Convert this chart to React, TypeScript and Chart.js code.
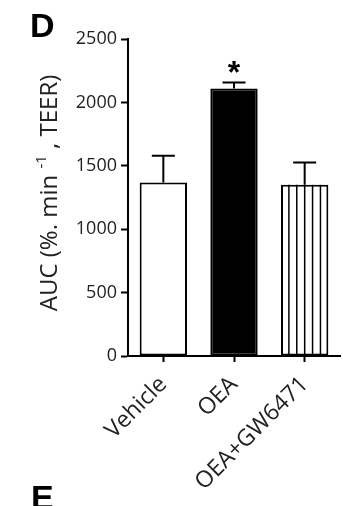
import React, { useEffect, useRef } from 'react';
import { Chart, registerables } from 'chart.js';

Chart.register(...registerables);

// Treatment groups and their area-under-curve values (mean and SEM)
const groups = ['Vehicle', 'OEA', 'OEA+GW6471'];
const aucMean = [1368, 2110, 1350];
const aucSem = [211, 47, 176];
const significance = ['', '*', ''];
const yTickValues = [0, 500, 1000, 1500, 2000, 2500];

const FONT = '"Open Sans", "DejaVu Sans", sans-serif';
const BOLD = '"Liberation Sans", Arial, sans-serif';

const annotatePlugin = {
  id: 'annotate',
  afterDatasetsDraw(chart: any) {
    const ctx: CanvasRenderingContext2D = chart.ctx;
    const meta = chart.getDatasetMeta(0);
    const yScale = chart.scales.y;
    ctx.save();
    ctx.strokeStyle = '#000';

    // vertical hatching inside the OEA+GW6471 bar
    const hatched: any = meta.data[2];
    const left = hatched.x - hatched.width / 2;
    ctx.lineWidth = 1.5;
    for (let k = 1; k < 6; k++) {
      const sx = left + (hatched.width * k) / 6;
      ctx.beginPath();
      ctx.moveTo(sx, hatched.y);
      ctx.lineTo(sx, hatched.base);
      ctx.stroke();
    }

    // upper error bars and significance marks
    meta.data.forEach((el: any, i: number) => {
      const top = yScale.getPixelForValue(aucMean[i] + aucSem[i]);
      ctx.lineWidth = 2;
      ctx.beginPath();
      ctx.moveTo(el.x, el.y);
      ctx.lineTo(el.x, top);
      ctx.moveTo(el.x - 11.5, top);
      ctx.lineTo(el.x + 11.5, top);
      ctx.stroke();
      if (significance[i]) {
        ctx.fillStyle = '#000';
        ctx.font = `bold 32px ${BOLD}`;
        ctx.textAlign = 'center';
        ctx.textBaseline = 'alphabetic';
        ctx.fillText(significance[i], el.x, top + 1);
      }
    });
    ctx.restore();
  },
  afterDraw(chart: any) {
    const ctx: CanvasRenderingContext2D = chart.ctx;
    ctx.save();

    // panel letters
    ctx.fillStyle = '#000';
    ctx.font = `bold 34px ${BOLD}`;
    ctx.textAlign = 'left';
    ctx.textBaseline = 'alphabetic';
    ctx.fillText('D', 30, 37);
    ctx.fillText('E', 31, 509);

    // rotated y-axis title with superscript
    ctx.fillStyle = '#222';
    ctx.translate(57, 193);
    ctx.rotate(-Math.PI / 2);
    const parts = [
      { t: 'AUC (%. min ', size: 24, rise: 0 },
      { t: '-1', size: 15, rise: 11 },
      { t: ' , TEER)', size: 24, rise: 0 },
    ];
    let total = 0;
    parts.forEach((p) => {
      ctx.font = `${p.size}px ${FONT}`;
      total += ctx.measureText(p.t).width;
    });
    let x = -total / 2;
    parts.forEach((p) => {
      ctx.font = `${p.size}px ${FONT}`;
      ctx.fillText(p.t, x, -p.rise);
      x += ctx.measureText(p.t).width;
    });
    ctx.restore();
  },
};

export default function App() {
  const canvasRef = useRef<HTMLCanvasElement | null>(null);

  useEffect(() => {
    if (!canvasRef.current) return;
    const chart = new Chart(canvasRef.current, {
      type: 'bar',
      data: {
        labels: groups,
        datasets: [
          {
            data: aucMean,
            backgroundColor: ['#ffffff', '#000000', '#ffffff'],
            borderColor: '#000',
            borderWidth: 2,
            borderSkipped: false,
            categoryPercentage: 1,
            barPercentage: 0.67,
          },
        ],
      },
      options: {
        responsive: false,
        animation: false,
        layout: { padding: { top: 39, right: 3, left: 0, bottom: 0 } },
        plugins: { legend: { display: false }, tooltip: { enabled: false } },
        scales: {
          x: {
            offset: true,
            afterFit: (s: any) => {
              s.height = 150;
            },
            grid: {
              display: true,
              drawOnChartArea: false,
              offset: false,
              tickLength: 6,
              tickColor: '#000',
              tickWidth: 2,
            },
            border: { display: true, color: '#000', width: 2 },
            ticks: {
              minRotation: 45,
              maxRotation: 45,
              color: '#222',
              padding: 9,
              font: { family: FONT, size: 23 },
            },
          },
          y: {
            min: 0,
            max: 2500,
            afterFit: (s: any) => {
              s.width = 128;
            },
            afterBuildTicks: (s: any) => {
              s.ticks = yTickValues.map((v) => ({ value: v }));
            },
            grid: {
              drawOnChartArea: false,
              tickLength: 7,
              tickColor: '#000',
              tickWidth: 2,
            },
            border: { display: true, color: '#000', width: 2 },
            ticks: {
              color: '#222',
              padding: 4,
              font: { family: FONT, size: 18 },
              callback: (v: any) => String(v),
            },
          },
        },
      },
      plugins: [annotatePlugin],
    } as any);
    return () => chart.destroy();
  }, []);

  return (
    <div style={{ position: 'fixed', left: 0, top: 0, width: 343, height: 506, background: '#fff' }}>
      <canvas ref={canvasRef} width={343} height={506} style={{ display: 'block' }} />
    </div>
  );
}
